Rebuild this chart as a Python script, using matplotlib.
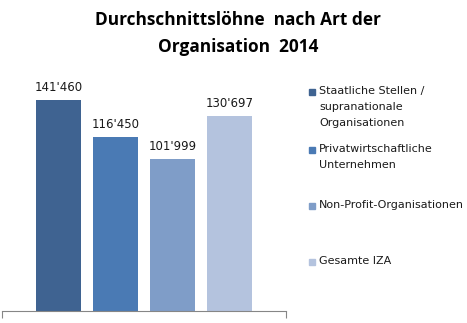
import matplotlib.pyplot as plt
from matplotlib.patches import Rectangle

# Data
series = ["Staatliche Stellen /\nsupranationale\nOrganisationen",
          "Privatwirtschaftliche\nUnternehmen",
          "Non-Profit-Organisationen",
          "Gesamte IZA"]
values = [141460, 116450, 101999, 130697]
value_labels = ["141'460", "116'450", "101'999", "130'697"]
colors = ["#3F6391", "#4A7AB4", "#7F9DC8", "#B4C3DE"]

W, H = 467, 323
fig = plt.figure(figsize=(W / 100, H / 100), dpi=100)

# axes: x 2..286 px, y bottom at 311 px
ax_bottom = 311
ymax = 160000
px_per_unit = 211 / 141460
ax_top = ax_bottom - ymax * px_per_unit
ax = fig.add_axes([2 / W, 1 - ax_bottom / H, 284 / W, (ax_bottom - ax_top) / H])

bw = 45 / 284
step = 57 / 284
for i, (v, lab, c) in enumerate(zip(values, value_labels, colors)):
    x = (i - 1.5) * step
    ax.bar(x, v, width=bw, color=c)
    ax.text(x, v + 4000, lab, ha='center', va='bottom', fontsize=8.5,
            family='DejaVu Sans', color='#1a1a1a')

ax.set_xlim(-0.5, 0.5)
ax.set_ylim(0, ymax)
for s in ['top', 'right', 'left']:
    ax.spines[s].set_visible(False)
ax.spines['bottom'].set_color('#868686')
ax.set_yticks([])
ax.set_xticks([-0.5, 0.5])
ax.set_xticklabels([])
ax.tick_params(axis='x', direction='out', length=5, color='#868686')

# title
fig.text(238 / W, 1 - 20 / H, "Durchschnittslöhne  nach Art der", ha='center', va='center',
         fontsize=12.4, fontweight='bold', family='Open Sans')
fig.text(238 / W, 1 - 47 / H, "Organisation  2014", ha='center', va='center',
         fontsize=12.4, fontweight='bold', family='Open Sans')

# legend
legend_y = [92, 150, 206, 262]
for lab, c, y in zip(series, colors, legend_y):
    fig.patches.append(Rectangle((309 / W, 1 - (y + 3) / H), 6 / W, 6 / H,
                                 transform=fig.transFigure, color=c))
    fig.text(319 / W, 1 - (y - 6) / H, lab, ha='left', va='top', fontsize=8,
             family='DejaVu Sans', color='#1a1a1a', linespacing=1.75)

fig.savefig("out.png", dpi=100)
